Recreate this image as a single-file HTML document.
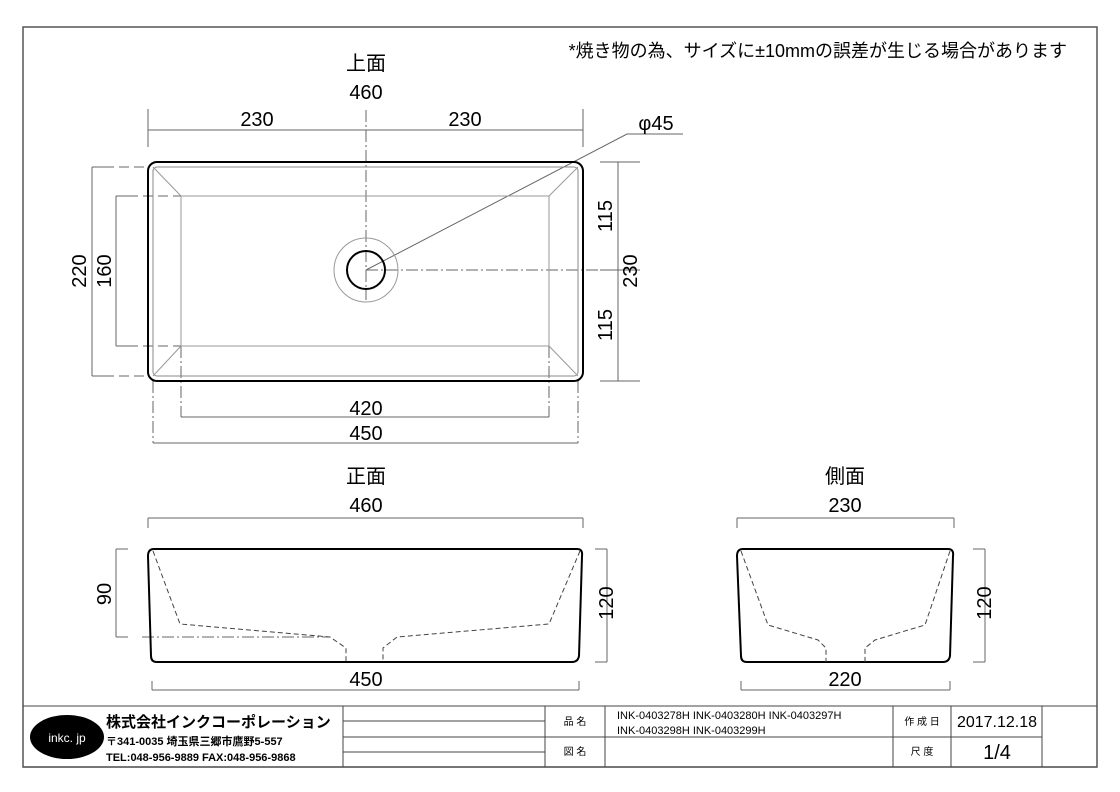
<!DOCTYPE html>
<html><head><meta charset="utf-8"><style>
html,body{margin:0;padding:0;background:#fff;}
svg{display:block;}
text{font-family:"Liberation Sans","Noto Sans CJK JP",sans-serif;fill:#000;}
</style></head><body>
<svg width="1120" height="792" viewBox="0 0 1120 792" xmlns="http://www.w3.org/2000/svg">
<rect x="23" y="27" width="1074" height="740" fill="none" stroke="#555" stroke-width="1.5"/>
<text x="1067" y="57" font-size="18" text-anchor="end">*焼き物の為、サイズに±10mmの誤差が生じる場合があります</text>

<!-- top view -->
<text x="366" y="70" font-size="20" text-anchor="middle">上面</text>
<text x="366" y="99" font-size="20" text-anchor="middle">460</text>
<text x="257" y="126" font-size="20" text-anchor="middle">230</text>
<text x="465" y="126" font-size="20" text-anchor="middle">230</text>
<g stroke="#666" stroke-width="1" fill="none">
<path d="M148 130H583M148 109V147M583 109V147"/>
<path d="M366 110V300" stroke-dasharray="12 3 2 3"/>
<path d="M366 270L627 134H683"/>
<path d="M366 270H600" stroke-dasharray="12 3 2 3"/>
<path d="M92 167V376M92 167H104M92 376H104M116 196V346M116 196H128M116 346H128"/>
<path d="M104 167H148M104 376H148M128 196H181M128 346H181" stroke-dasharray="10 5"/>
<path d="M618 162V381M600 162H640M600 381H640M600 270H640"/>
<path d="M181 346V417M549 346V417M153 381V443M578 381V443" stroke-dasharray="12 3 2 3"/>
<path d="M181 417H549M153 443H578"/>
</g>
<text x="656" y="130" font-size="20" text-anchor="middle">φ45</text>
<rect x="148" y="162" width="435" height="219" rx="9" fill="none" stroke="#000" stroke-width="2"/>
<rect x="153" y="167" width="425" height="209" rx="4" fill="none" stroke="#888" stroke-width="1"/>
<rect x="181" y="196" width="368" height="150" fill="none" stroke="#999" stroke-width="1"/>
<path d="M153 167L181 196M578 167L549 196M153 376L181 346M578 376L549 346" stroke="#999" fill="none"/>
<circle cx="366" cy="270" r="32" fill="none" stroke="#999"/>
<circle cx="366" cy="270" r="19" fill="none" stroke="#000" stroke-width="2"/>
<text transform="translate(86,271) rotate(-90)" font-size="20" text-anchor="middle">220</text>
<text transform="translate(111,271) rotate(-90)" font-size="20" text-anchor="middle">160</text>
<text transform="translate(612,216) rotate(-90)" font-size="20" text-anchor="middle">115</text>
<text transform="translate(612,325) rotate(-90)" font-size="20" text-anchor="middle">115</text>
<text transform="translate(637,271) rotate(-90)" font-size="20" text-anchor="middle">230</text>
<text x="366" y="415" font-size="20" text-anchor="middle">420</text>
<text x="366" y="440" font-size="20" text-anchor="middle">450</text>

<!-- front -->
<text x="366" y="483" font-size="20" text-anchor="middle">正面</text>
<text x="366" y="512" font-size="20" text-anchor="middle">460</text>
<g stroke="#666" fill="none">
<path d="M148 518H583M148 518V528M583 518V528"/>
<path d="M116 549V637M116 549H128M116 637H128"/>
<path d="M607 549V662M595 549H607M595 662H607"/>
<path d="M152 690H579M152 681V690M579 681V690"/>
<path d="M142 637H330" stroke-dasharray="12 3 2 3"/>
</g>
<path d="M154 549H577Q583 549 582 556L579 656Q578 662 572 662H157Q151 662 151 656L148 556Q148 549 154 549Z" fill="none" stroke="#000" stroke-width="2"/>
<g stroke="#444" fill="none" stroke-dasharray="5 3">
<path d="M153 551L180 624L330 637L346 648V662"/>
<path d="M580 551L549 624L397 637L383 648V662"/>
</g>
<text transform="translate(111,594) rotate(-90)" font-size="20" text-anchor="middle">90</text>
<text transform="translate(613,603) rotate(-90)" font-size="20" text-anchor="middle">120</text>
<text x="366" y="686" font-size="20" text-anchor="middle">450</text>

<!-- side -->
<text x="845" y="483" font-size="20" text-anchor="middle">側面</text>
<text x="845" y="512" font-size="20" text-anchor="middle">230</text>
<g stroke="#666" fill="none">
<path d="M737 518H954M737 518V528M954 518V528"/>
<path d="M985 549V662M973 549H985M973 662H985"/>
<path d="M741 690H950M741 681V690M950 681V690"/>
</g>
<path d="M743 549H948Q954 549 953 556L950 656Q949 662 943 662H747Q741 662 741 656L737 556Q737 549 743 549Z" fill="none" stroke="#000" stroke-width="2"/>
<g stroke="#444" fill="none" stroke-dasharray="5 3">
<path d="M741 551L768 625L818 640L826 648V662"/>
<path d="M950 551L925 625L875 640L865 648V662"/>
</g>
<text transform="translate(991,603) rotate(-90)" font-size="20" text-anchor="middle">120</text>
<text x="845" y="686" font-size="20" text-anchor="middle">220</text>

<!-- title block -->
<g stroke="#444" fill="none" stroke-width="1">
<path d="M23 706H1097M23 767H1097"/>
<path d="M343 706V767M545 706V767M605 706V767M893 706V767M951 706V767M1042 706V767"/>
<path d="M545 737H1042"/>
<path d="M343 721H545M343 752H545M343 737H545"/>
</g>
<ellipse cx="67" cy="737" rx="37" ry="22" fill="#000"/>
<text x="67" y="742" font-size="12" text-anchor="middle" style="fill:#fff">inkc. jp</text>
<text x="106" y="727" font-size="15" font-weight="bold">株式会社インクコーポレーション</text>
<text x="106" y="745" font-size="11" font-weight="bold">〒341-0035 埼玉県三郷市鷹野5-557</text>
<text x="106" y="761" font-size="11" font-weight="bold">TEL:048-956-9889  FAX:048-956-9868</text>
<text x="575" y="725" font-size="10" text-anchor="middle">品 名</text>
<text x="575" y="755" font-size="10" text-anchor="middle">図 名</text>
<text x="617" y="719" font-size="11">INK-0403278H  INK-0403280H  INK-0403297H</text>
<text x="617" y="734" font-size="11">INK-0403298H  INK-0403299H</text>
<text x="922" y="725" font-size="10" text-anchor="middle">作 成 日</text>
<text x="922" y="755" font-size="10" text-anchor="middle">尺 度</text>
<text x="997" y="727" font-size="16" text-anchor="middle">2017.12.18</text>
<text x="997" y="759" font-size="20" text-anchor="middle">1/4</text>
</svg>
</body></html>
